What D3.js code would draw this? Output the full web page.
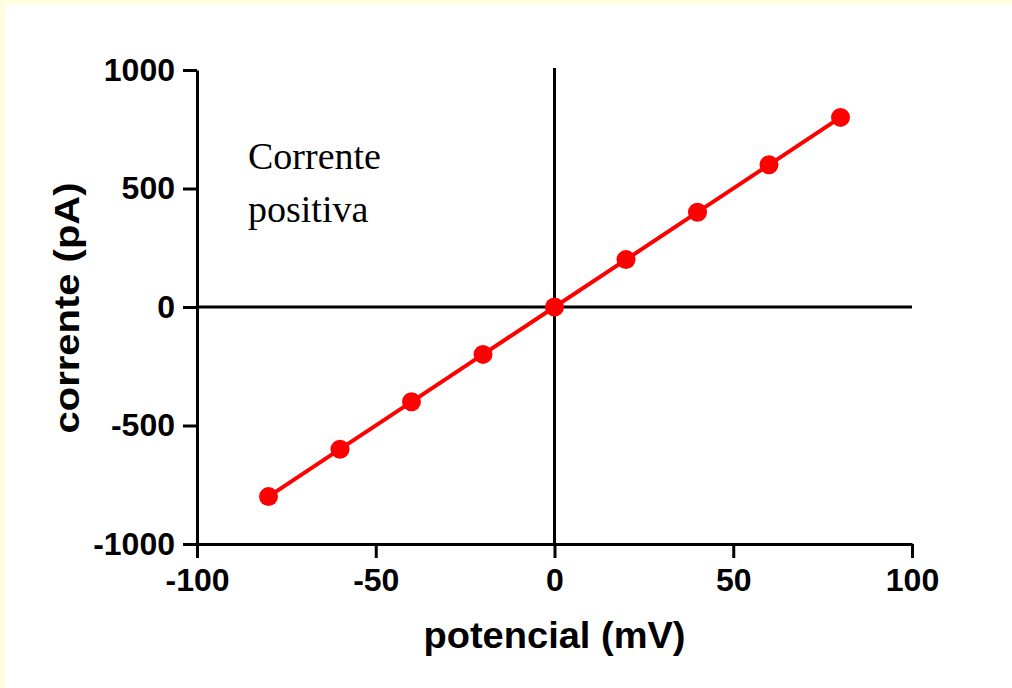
<!DOCTYPE html>
<html>
<head>
<meta charset="utf-8">
<script src="https://cdn.jsdelivr.net/npm/d3@7"></script>
<style>
  body { margin: 0; background: #fff; }
  svg { display: block; }
</style>
</head>
<body>
<svg width="1012" height="688"></svg>
<script>
// valores
const potencial = [-80, -60, -40, -20, 0, 20, 40, 60, 80];
const corrente = [-800, -600, -400, -200, 0, 200, 400, 600, 800];
const xTicks = [-100, -50, 0, 50, 100];
const yTicks = [-1000, -500, 0, 500, 1000];

const svg = d3.select("svg"),
    width = +svg.attr("width"),
    height = +svg.attr("height");

// borda amarelada em cima e a esquerda
svg.append("rect").attr("width", width).attr("height", 5).attr("fill", "#fffce0");
svg.append("rect").attr("width", 5).attr("height", height).attr("fill", "#fffce0");

const x = d3.scaleLinear().domain([-100, 100]).range([197, 912]);
const y = d3.scaleLinear().domain([-1000, 1000]).range([544, 70]);

const tickFont = "'Liberation Sans', Arial, sans-serif";
const fmt = function (d) { return String(d); };

const xAxis = svg.append("g")
    .attr("transform", "translate(0," + y(-1000) + ")")
    .call(d3.axisBottom(x).tickValues(xTicks).tickFormat(fmt)
        .tickSize(14).tickPadding(9).tickSizeOuter(0));

const yAxis = svg.append("g")
    .attr("transform", "translate(" + x(-100) + ",0)")
    .call(d3.axisLeft(y).tickValues(yTicks).tickFormat(fmt)
        .tickSize(14).tickPadding(8).tickSizeOuter(0));

[xAxis, yAxis].forEach(function (g) {
    g.select(".domain").attr("stroke", "#000").attr("stroke-width", 3);
    g.selectAll(".tick line").attr("stroke", "#000").attr("stroke-width", 3);
    g.selectAll(".tick text")
        .attr("fill", "#000")
        .style("font-family", tickFont)
        .style("font-weight", "bold")
        .style("font-size", "32px");
});
xAxis.selectAll(".tick text").attr("dy", "0.75em");

// eixos cruzando o zero
svg.append("line")
    .attr("x1", x(-100)).attr("x2", x(100))
    .attr("y1", y(0)).attr("y2", y(0))
    .attr("stroke", "#000").attr("stroke-width", 3);
svg.append("line")
    .attr("x1", x(0)).attr("x2", x(0))
    .attr("y1", y(1000) - 2).attr("y2", y(-1000))
    .attr("stroke", "#000").attr("stroke-width", 3);

const points = potencial.map(function (p, i) { return {x: p, y: corrente[i]}; });

svg.append("path")
    .datum(points)
    .attr("fill", "none")
    .attr("stroke", "#ff0000")
    .attr("stroke-width", 4)
    .attr("d", d3.line()
        .x(function (d) { return x(d.x); })
        .y(function (d) { return y(d.y); }));

svg.append("g")
    .selectAll("circle")
    .data(points)
    .enter().append("circle")
    .attr("cx", function (d) { return x(d.x); })
    .attr("cy", function (d) { return y(d.y); })
    .attr("r", 9.5)
    .attr("fill", "#ff0000");

// titulos dos eixos
svg.append("text")
    .attr("x", x(0))
    .attr("y", 648)
    .attr("text-anchor", "middle")
    .attr("textLength", 262)
    .attr("lengthAdjust", "spacingAndGlyphs")
    .style("font-family", tickFont)
    .style("font-weight", "bold")
    .style("font-size", "36px")
    .text("potencial (mV)");

svg.append("text")
    .attr("transform", "translate(79,308) rotate(-90)")
    .attr("text-anchor", "middle")
    .attr("textLength", 251)
    .attr("lengthAdjust", "spacingAndGlyphs")
    .style("font-family", tickFont)
    .style("font-weight", "bold")
    .style("font-size", "35px")
    .text("corrente (pA)");

// anotacao
const note = svg.append("text")
    .style("font-family", "'Liberation Serif', 'Times New Roman', serif")
    .style("font-size", "38px")
    .attr("fill", "#000");
note.append("tspan").attr("x", 248).attr("y", 169).text("Corrente");
note.append("tspan").attr("x", 248).attr("y", 222).text("positiva");
</script>
</body>
</html>
